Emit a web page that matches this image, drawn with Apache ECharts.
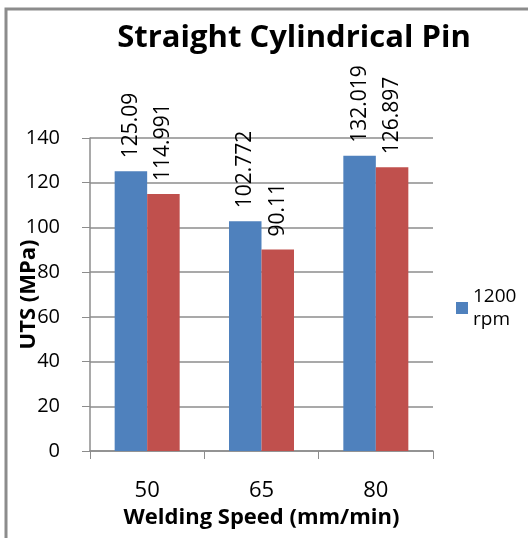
<!DOCTYPE html>
<html><head><meta charset="utf-8">
<script src="https://cdn.jsdelivr.net/npm/echarts@6/dist/echarts.min.js"></script>
<style>html,body{margin:0;padding:0;background:#fff}#c{width:528px;height:538px}</style>
</head><body><div id="c"></div>
<script>
const categories = ['50', '65', '80'];
const series1Name = '1200 rpm';
const series1Values = [125.09, 102.772, 132.019];
const series2Name = 'Series 2';
const series2Values = [114.991, 90.11, 126.897];
const yTicks = [0, 20, 40, 60, 80, 100, 120, 140];

const font = 'Open Sans, Liberation Sans, sans-serif';
const chart = echarts.init(document.getElementById('c'));
const labelCfg = {
  show: true, position: 'top', rotate: 90, align: 'left', verticalAlign: 'middle',
  distance: 13, fontSize: 21, color: '#000', fontFamily: font,
  formatter: p => String(p.value)
};
chart.setOption({
  animation: false,
  title: {
    text: 'Straight Cylindrical Pin', left: 289, top: 18, textAlign: 'center',
    textStyle: { fontSize: 31, fontWeight: 'bold', color: '#000', fontFamily: font }
  },
  graphic: [{
    type: 'polyline', shape: { points: [[6, 540], [6, 9], [530, 9]] },
    style: { stroke: '#8c8c8c', lineWidth: 3, fill: null }
  }],
  legend: {
    data: [series1Name], orient: 'vertical', left: 451, top: 280,
    itemWidth: 12, itemHeight: 12, icon: 'rect',
    formatter: n => n.replace(' ', '\n'),
    textStyle: { fontSize: 19, color: '#000', fontFamily: font, lineHeight: 23 }
  },
  grid: { left: 90, right: 95, top: 138, bottom: 87, containLabel: false, outerBoundsMode: 'none' },
  xAxis: {
    type: 'category', data: categories,
    name: 'Welding Speed (mm/min)', nameLocation: 'middle', nameGap: 56, nameMoveOverlap: false,
    nameTextStyle: { fontSize: 22, fontWeight: 'bold', color: '#000', fontFamily: font },
    axisLine: { lineStyle: { color: '#8c8c8c', width: 1.5 } },
    axisTick: { show: true, length: 8, lineStyle: { color: '#8c8c8c' } },
    axisLabel: { fontSize: 22, color: '#000', margin: 29, fontFamily: font }
  },
  yAxis: {
    type: 'value', min: 0, max: 140, interval: 20,
    name: 'UTS (MPa)', nameLocation: 'middle', nameGap: 50, nameRotate: 90, nameMoveOverlap: false,
    nameTextStyle: { fontSize: 22, fontWeight: 'bold', color: '#000', fontFamily: font },
    axisLine: { show: true, lineStyle: { color: '#8c8c8c', width: 1.5 } },
    axisTick: { show: true, length: 8, lineStyle: { color: '#8c8c8c' } },
    axisLabel: { fontSize: 20, color: '#000', margin: 30, fontFamily: font,
      formatter: v => yTicks.includes(v) ? String(v) : '' },
    splitLine: { lineStyle: { color: '#8c8c8c', width: 1.5 } }
  },
  series: [
    { name: series1Name, type: 'bar', data: series1Values, barWidth: 32.5, barGap: '0%',
      itemStyle: { color: '#4F81BD' }, label: labelCfg },
    { name: series2Name, type: 'bar', data: series2Values, barWidth: 32.5,
      itemStyle: { color: '#C0504D' }, label: labelCfg }
  ]
});
</script></body></html>
